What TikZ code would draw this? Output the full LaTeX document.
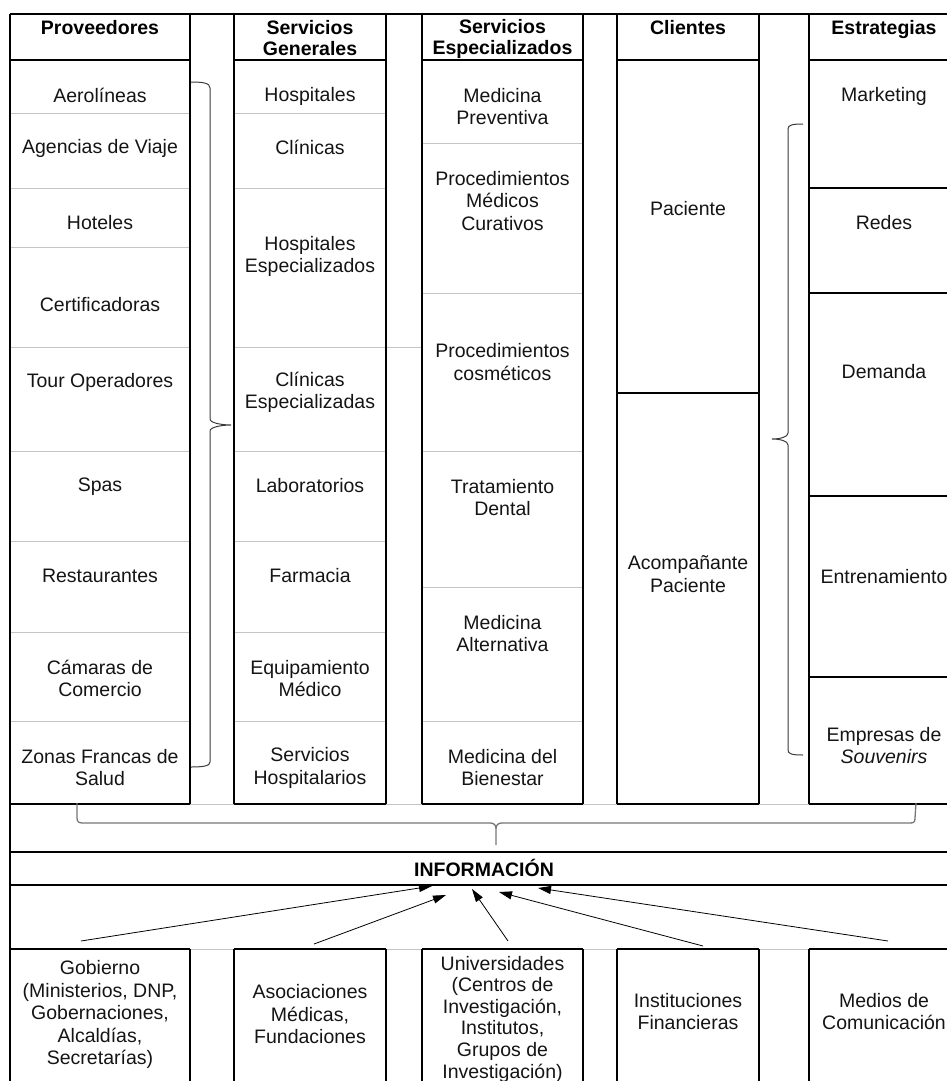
\documentclass[tikz,border=0pt]{standalone}
\usepackage{fontspec}
\setmainfont{Liberation Sans}
\usetikzlibrary{arrows.meta}
\definecolor{gl}{HTML}{C4C4C4}
\definecolor{brc}{HTML}{3A3A3A}
\definecolor{brb}{HTML}{767676}
\begin{document}
\begin{tikzpicture}[x=1pt,y=-1pt,
  blk/.style={line width=1.1pt,black},
  gry/.style={line width=0.9pt,gl},
  txt/.style={align=center,inner sep=0pt,text=black!92,font=\fontsize{19.5}{22.5}\selectfont},
  hdr/.style={align=center,inner sep=0pt,text=black,font=\fontsize{19.5}{21}\selectfont\bfseries},
  bracel/.style={line width=1pt,brc},
  braceb/.style={line width=1.3pt,brb},
  arr/.style={line width=0.8pt,black,-{Triangle[length=13pt,width=8pt]}}]
\useasboundingbox (0,0) rectangle (947,1081);
\clip (0,0) rectangle (947,1081);
% ---------- gray row lines ----------
\foreach \y in {113,188,247,347,451,541,632,721} \draw[gry] (10,\y) -- (190,\y);
\foreach \y in {113,188,451,541,632,721} \draw[gry] (234,\y) -- (386,\y);
\draw[gry] (234,347) -- (422,347);
\foreach \y in {143,293,451,587,721} \draw[gry] (422,\y) -- (583,\y);
\foreach \a/\b in {190/234,386/422,583/617,759/809} {
  \draw[gry] (\a,804) -- (\b,804);
  \draw[gry] (\a,949) -- (\b,949);
}
% ---------- black lines ----------
\draw[blk] (10,14) -- (947,14);
\draw[blk] (10,14) -- (10,1081);
\foreach \x in {190,234,386,422,583,617,759,809} \draw[blk] (\x,14) -- (\x,804);
\foreach \a/\b in {10/190,234/386,422/583,617/759,809/947} {
  \draw[blk] (\a,60) -- (\b,60);
  \draw[blk] (\a,804) -- (\b,804);
  \draw[blk] (\a,949) -- (\b,949);
}
\draw[blk] (617,393) -- (759,393);
\foreach \y in {188,293,496,677} \draw[blk] (809,\y) -- (947,\y);
\draw[blk] (10,852) -- (947,852);
\draw[blk] (10,885) -- (947,885);
\foreach \x in {190,234,386,422,583,617,759,809} \draw[blk] (\x,949) -- (\x,1081);
% ---------- braces ----------
\draw[bracel] (191,82) .. controls (203,82) and (210,83) .. (210,88) -- (210,419)
  .. controls (210,423) and (222,425) .. (231,425)
  .. controls (222,425) and (210,427) .. (210,431) -- (210,762)
  .. controls (210,766) and (203,767) .. (191,767);
\draw[bracel] (803,124) .. controls (792,124) and (788,125) .. (788,129) -- (788,433)
  .. controls (788,437) and (780,439) .. (772,439)
  .. controls (780,439) and (788,441) .. (788,445) -- (788,750)
  .. controls (788,754) and (792,755) .. (803,755);
\draw[braceb] (77,803) -- (77,818) .. controls (77,822) and (79,823) .. (83,823) -- (490,823)
  .. controls (494,823) and (496,825) .. (496,829) -- (496,845) -- (496,829)
  .. controls (496,825) and (498,823) .. (502,823) -- (910,823)
  .. controls (914,823) and (915,822) .. (915,818) -- (916,803);
% ---------- headers ----------
\node[hdr] (h1) at (100,28) {Proveedores};
\node[hdr] (h2) at (310,38.5) {Servicios\\Generales};
\node[hdr] (h3) at (502.5,38.5) {Servicios\\Especializados};
\node[hdr] (h4) at (688,28) {Clientes};
\node[hdr] (h5) at (884,29.5) {Estrategias};
% ---------- column 1 ----------
\node[txt] (p1) at (100,95) {Aerolíneas};
\node[txt] (p2) at (100,148) {Agencias de Viaje};
\node[txt] (p3) at (100,223) {Hoteles};
\node[txt] (p4) at (100,305) {Certificadoras};
\node[txt] (p5) at (100,382) {Tour Operadores};
\node[txt] (p6) at (100,487) {Spas};
\node[txt] (p7) at (100,576) {Restaurantes};
\node[txt] (p8) at (100,678.5) {Cámaras de\\Comercio};
\node[txt] (p9) at (100,767.5) {Zonas Francas de\\Salud};
% ---------- column 2 ----------
\node[txt] (g1) at (310,96) {Hospitales};
\node[txt] (g2) at (310,147) {Clínicas};
\node[txt] (g3) at (310,256.5) {Hospitales\\Especializados};
\node[txt] (g4) at (310,392.5) {Clínicas\\Especializadas};
\node[txt] (g5) at (310,486) {Laboratorios};
\node[txt] (g6) at (310,576) {Farmacia};
\node[txt] (g7) at (310,678.5) {Equipamiento\\Médico};
\node[txt] (g8) at (310,768) {Servicios\\Hospitalarios};
% ---------- column 3 ----------
\node[txt] (s1) at (502.5,106.5) {Medicina\\Preventiva};
\node[txt] (s2) at (502.5,201) {Procedimientos\\Médicos\\Curativos};
\node[txt] (s3) at (502.5,362) {Procedimientos\\cosméticos};
\node[txt] (s4) at (502.5,497.5) {Tratamiento\\Dental};
\node[txt] (s5) at (502.5,633.5) {Medicina\\Alternativa};
\node[txt] (s6) at (502.5,767.5) {Medicina del\\Bienestar};
% ---------- column 4 ----------
\node[txt] (c1) at (688,209) {Paciente};
\node[txt] (c2) at (688,574) {Acompañante\\Paciente};
% ---------- column 5 ----------
\node[txt] (e1) at (884,96) {Marketing};
\node[txt] (e2) at (884,223) {Redes};
\node[txt] (e3) at (884,372) {Demanda};
\node[txt] (e4) at (884,577) {Entrenamiento};
\node[txt] (e5) at (884,745.5) {Empresas de\\\textit{Souvenirs}};
% ---------- information ----------
\node[hdr] (info) at (484,868) {INFORMACIÓN};
% ---------- bottom row ----------
\node[txt] (b1) at (100,1014.5) {Gobierno\\(Ministerios, DNP,\\Gobernaciones,\\Alcaldías,\\Secretarías)};
\node[txt] (b2) at (310,1014.5) {Asociaciones\\Médicas,\\Fundaciones};
\node[txt,font=\fontsize{19.5}{21.6}\selectfont] (b3) at (502.5,1019) {Universidades\\(Centros de\\Investigación,\\Institutos,\\Grupos de\\Investigación)};
\node[txt] (b4) at (688,1011.5) {Instituciones\\Financieras};
\node[txt] (b5) at (884,1011.5) {Medios de\\Comunicación};
% ---------- arrows ----------
\coordinate (a1) at (81,941);   \coordinate (t1) at (432,886);
\coordinate (a2) at (314,944);  \coordinate (t2) at (446,895);
\coordinate (a3) at (508,941);  \coordinate (t3) at (472,889);
\coordinate (a4) at (703,946);  \coordinate (t4) at (499,892);
\coordinate (a5) at (888,941);  \coordinate (t5) at (538,888);
\draw[arr] (a1) -- (t1);
\draw[arr] (a2) -- (t2);
\draw[arr] (a3) -- (t3);
\draw[arr] (a4) -- (t4);
\draw[arr] (a5) -- (t5);
\end{tikzpicture}
\end{document}
